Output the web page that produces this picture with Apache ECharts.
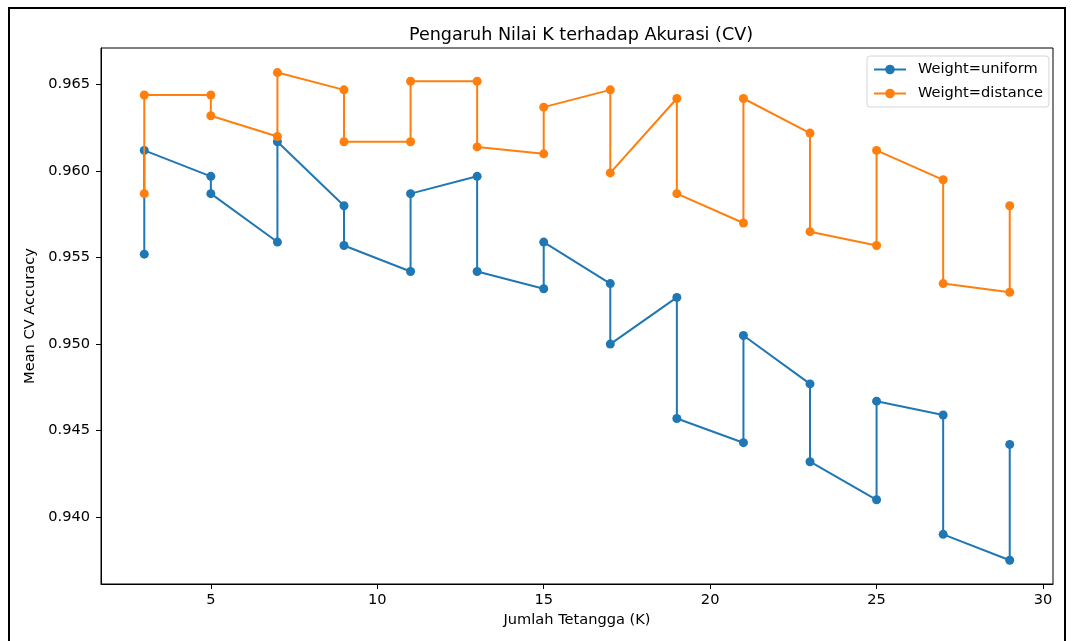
<!DOCTYPE html>
<html>
<head>
<meta charset="utf-8">
<script src="https://cdn.jsdelivr.net/npm/echarts@6/dist/echarts.min.js"></script>
<style>
  html, body { margin: 0; padding: 0; background: #fff; }
  #chart { width: 1074px; height: 641px; }
</style>
</head>
<body>
<div id="chart"></div>
<script>
// K values (each K appears twice, in plotting order)
const kUniform  = [3,3,5,5,7,7,9,9,11,11,13,13,15,15,17,17,19,19,21,21,23,23,25,25,27,27,29,29];
const accUniform = [0.9552,0.9612,0.9597,0.9587,0.9559,0.9617,0.9580,0.9557,0.9542,0.9587,0.9597,0.9542,0.9532,0.9559,0.9535,0.9500,0.9527,0.9457,0.9443,0.9505,0.9477,0.9432,0.9410,0.9467,0.9459,0.9390,0.9375,0.9442];
const kDistance  = [3,3,5,5,7,7,9,9,11,11,13,13,15,15,17,17,19,19,21,21,23,23,25,25,27,27,29,29];
const accDistance = [0.9587,0.9644,0.9644,0.9632,0.9620,0.9657,0.9647,0.9617,0.9617,0.9652,0.9652,0.9614,0.9610,0.9637,0.9647,0.9599,0.9642,0.9587,0.9570,0.9642,0.9622,0.9565,0.9557,0.9612,0.9595,0.9535,0.9530,0.9580];
const xTicks = [5,10,15,20,25,30];
const yTicks = [0.940,0.945,0.950,0.955,0.960,0.965];
const seriesNames = ['Weight=uniform','Weight=distance'];

const font = 'DejaVu Sans';
const fs = 14.6;
const chart = echarts.init(document.getElementById('chart'), null, {renderer: 'canvas'});
const pairs = (xs, ys) => xs.map((x, i) => [x, ys[i]]);

chart.setOption({
  animation: false,
  backgroundColor: '#fff',
  textStyle: { fontFamily: font },
  title: {
    text: 'Pengaruh Nilai K terhadap Akurasi (CV)',
    left: 576, top: 21, textAlign: 'center',
    textStyle: { fontFamily: font, fontSize: 17.6, fontWeight: 'normal', color: '#000' }
  },
  graphic: [{
    type: 'rect', silent: true, z: 100,
    shape: { x: 9, y: 8, width: 1056, height: 700 },
    style: { fill: 'none', stroke: '#000', lineWidth: 2 }
  }],
  legend: {
    orient: 'vertical',
    left: 867, top: 56,
    padding: [6, 6, 6, 6],
    itemGap: 9,
    itemWidth: 32, itemHeight: 12,
    backgroundColor: '#fff',
    borderColor: '#d6d6d6', borderWidth: 1, borderRadius: 3,
    textStyle: { fontFamily: font, fontSize: fs, color: '#000', padding: [0, 0, 0, 7] },
    data: seriesNames
  },
  grid: {
    left: 101, top: 48, right: 21, bottom: 57,
    show: true, borderColor: '#000', borderWidth: 1, backgroundColor: 'transparent'
  },
  xAxis: {
    type: 'value', min: 1.7, max: 30.3,
    name: 'Jumlah Tetangga (K)', nameLocation: 'middle', nameGap: 29,
    nameTextStyle: { fontFamily: font, fontSize: fs, color: '#000' },
    axisLine: { show: true, lineStyle: { color: '#000', width: 1 } },
    axisTick: { show: true, length: 5, lineStyle: { color: '#000' }, customValues: xTicks },
    axisLabel: { fontFamily: font, fontSize: fs, color: '#000', margin: 9, customValues: xTicks },
    splitLine: { show: false }
  },
  yAxis: {
    type: 'value', min: 0.93613, max: 0.96712,
    name: 'Mean CV Accuracy', nameLocation: 'middle', nameGap: 62,
    nameTextStyle: { fontFamily: font, fontSize: fs, color: '#000' },
    axisLine: { show: true, lineStyle: { color: '#000', width: 1 } },
    axisTick: { show: true, length: 5, lineStyle: { color: '#000' }, customValues: yTicks },
    axisLabel: { fontFamily: font, fontSize: fs, color: '#000', margin: 11,
      customValues: yTicks, formatter: v => v.toFixed(3) },
    splitLine: { show: false }
  },
  series: [
    {
      name: seriesNames[0], type: 'line',
      data: pairs(kUniform, accUniform),
      symbol: 'circle', symbolSize: 9,
      lineStyle: { color: '#1f77b4', width: 2 },
      itemStyle: { color: '#1f77b4' },
      z: 2
    },
    {
      name: seriesNames[1], type: 'line',
      data: pairs(kDistance, accDistance),
      symbol: 'circle', symbolSize: 9,
      lineStyle: { color: '#ff7f0e', width: 2 },
      itemStyle: { color: '#ff7f0e' },
      z: 3
    }
  ]
});
</script>
</body>
</html>
